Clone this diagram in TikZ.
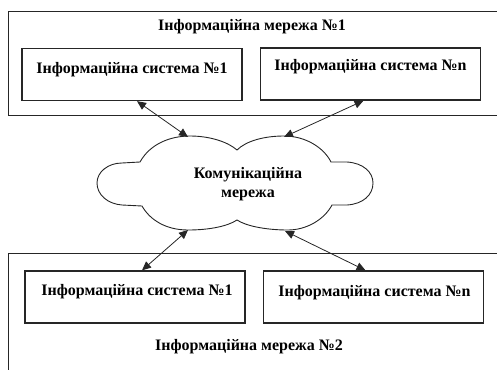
\documentclass[tikz,border=0pt]{standalone}
\usepackage{fontspec}
\setmainfont{Liberation Serif}
\usetikzlibrary{arrows.meta}
\begin{document}
\begin{tikzpicture}[x=1pt,y=-1pt,
  sysbox/.style={draw=black!85,line width=1.3pt,minimum width=220pt,minimum height=52pt,inner sep=0pt},
  lbl/.style={font=\fontsize{16}{18}\selectfont\bfseries,inner sep=0pt,align=center},
  frame/.style={draw=black!85,line width=1pt},
  conn/.style={draw=black!85,line width=0.8pt,{Triangle[length=9pt,width=8pt]}-{Triangle[length=9pt,width=8pt]}}]
\useasboundingbox (0,0) rectangle (497,370);
% outer frames
\draw[frame] (497,11) -- (8,11) -- (8,115) -- (497,115);
\draw[frame] (497,253) -- (8,253) -- (8,370);
% boxes
\node[sysbox] (s1) at (132,74.5) {};
\node[sysbox] (sn) at (370.5,74) {};
\node[sysbox] (b1) at (135,297) {};
\node[sysbox] (bn) at (373.5,297) {};
% labels
\node[lbl] (n1) at (252,27) {Інформаційна мережа №1};
\node[lbl] (t1) at (132,70) {Інформаційна система №1};
\node[lbl] (tn) at (370.5,67) {Інформаційна система №n};
\node[lbl] (u1) at (137,292) {Інформаційна система №1};
\node[lbl] (un) at (374.5,293) {Інформаційна система №n};
\node[lbl] (n2) at (249,347) {Інформаційна мережа №2};
% cloud
\draw[frame,line width=0.9pt] (97,183) .. controls (97,172) and (108,163) .. (122,163) -- (140,162)
  .. controls (150,144) and (170,136) .. (190,136) .. controls (210,136) and (228,142) .. (237,150)
  .. controls (246,141) and (264,136) .. (284,136) .. controls (306,136) and (324,148) .. (331,162) -- (347,162)
  .. controls (363,163) and (373,172) .. (373,183) .. controls (373,195) and (363,204) .. (347,205) -- (332,205)
  .. controls (324,220) and (306,230) .. (288,230) .. controls (266,230) and (246,226) .. (237,220)
  .. controls (228,226) and (210,230) .. (188,230) .. controls (166,230) and (150,220) .. (142,206) -- (122,205)
  .. controls (108,204) and (97,195) .. (97,183) -- cycle;
\node[lbl] (cl) at (248,184) {Комунікаційна\\[1pt]мережа};
\coordinate (c1) at (188,137);
\coordinate (c2) at (284,137);
\coordinate (c3) at (188,230);
\coordinate (c4) at (285,231);
% connectors
\draw[conn] ([xshift=5pt]s1.south) -- (c1);
\draw[conn] ([xshift=-7pt]sn.south) -- (c2);
\draw[conn] (c3) -- ([xshift=7pt]b1.north);
\draw[conn] (c4) -- ([xshift=-8pt]bn.north);
\end{tikzpicture}
\end{document}
